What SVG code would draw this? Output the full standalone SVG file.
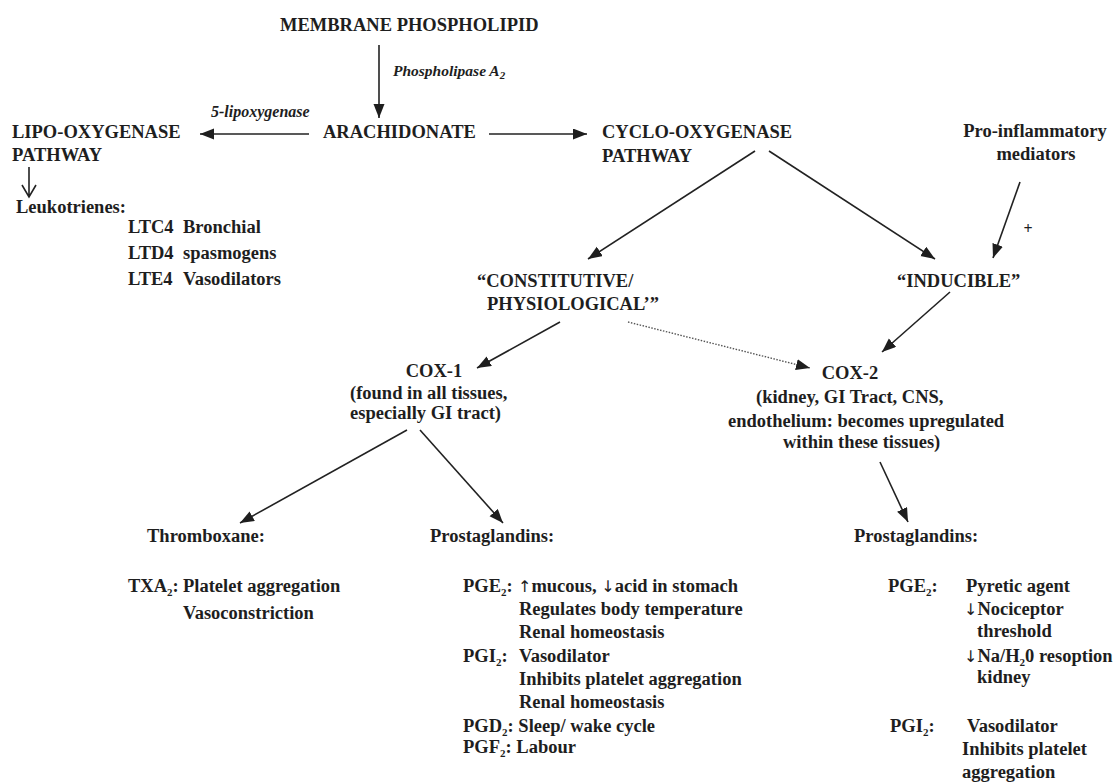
<svg xmlns="http://www.w3.org/2000/svg" width="1115" height="783" viewBox="0 0 1115 783">
<style>
text{font-family:"Liberation Serif","Times New Roman",serif;font-weight:bold;font-size:18.5px;fill:#1e1e1e}
.it{font-style:italic;font-size:15.5px}
.sub{font-size:11px}
.ar{font-family:"DejaVu Sans",sans-serif;font-weight:normal;font-size:16px}
.c line,.c path{stroke:#222;stroke-width:1.6;fill:none}
.c .dot{stroke:#555;stroke-width:1.4;stroke-dasharray:1.5 1.5}
</style>
<defs>
<marker id="ah" markerUnits="userSpaceOnUse" markerWidth="15" markerHeight="12" refX="14" refY="5.5" orient="auto">
<path d="M0,0 L14,5.5 L0,11 z" fill="#1e1e1e"/>
</marker>
</defs>
<rect width="1115" height="783" fill="#fff"/>
<g class="c" id="connectors">
<line x1="379" y1="45" x2="379" y2="118" marker-end="url(#ah)"/>
<line x1="309" y1="134" x2="200" y2="134" marker-end="url(#ah)"/>
<line x1="489" y1="134" x2="587" y2="134" marker-end="url(#ah)"/>
<path d="M29,167 V197 M22,185 L29,197 L36,185"/>
<line x1="755" y1="151" x2="588" y2="259" marker-end="url(#ah)"/>
<line x1="769" y1="151" x2="935" y2="259" marker-end="url(#ah)"/>
<line x1="1020" y1="182" x2="993" y2="258" marker-end="url(#ah)"/>
<line x1="560" y1="322" x2="477" y2="368" marker-end="url(#ah)"/>
<line class="dot" x1="628" y1="322" x2="810" y2="368" marker-end="url(#ah)"/>
<line x1="950" y1="292" x2="882" y2="352" marker-end="url(#ah)"/>
<line x1="407" y1="430" x2="240" y2="523" marker-end="url(#ah)"/>
<line x1="420" y1="430" x2="503" y2="523" marker-end="url(#ah)"/>
<line x1="880" y1="462" x2="908" y2="522" marker-end="url(#ah)"/>
</g>
<g id="membrane"><text x="280" y="31">MEMBRANE PHOSPHOLIPID</text></g>
<g id="pla2"><text class="it" x="393" y="76">Phospholipase A<tspan class="sub" dy="3">2</tspan></text></g>
<g id="lipox5"><text class="it" x="211" y="117" style="font-size:16px">5-lipoxygenase</text></g>
<g id="lipo"><text x="12" y="138">LIPO-OXYGENASE</text><text x="12" y="161">PATHWAY</text></g>
<g id="arachidonate"><text x="323" y="138">ARACHIDONATE</text></g>
<g id="cyclo"><text x="602" y="138">CYCLO-OXYGENASE</text><text x="602" y="162">PATHWAY</text></g>
<g id="proinflam"><text x="1035" y="137" text-anchor="middle">Pro-inflammatory</text><text x="1036" y="160" text-anchor="middle">mediators</text><text x="1028" y="234" text-anchor="middle" style="font-size:16px">+</text></g>
<g id="leuko">
<text x="16" y="213">Leukotrienes:</text>
<text x="128" y="233">LTC4</text><text x="183" y="233">Bronchial</text>
<text x="128" y="259">LTD4</text><text x="183" y="259">spasmogens</text>
<text x="128" y="285">LTE4</text><text x="183" y="285">Vasodilators</text>
</g>
<g id="constitutive"><text x="477" y="287">“CONSTITUTIVE/</text><text x="487" y="310">PHYSIOLOGICAL’”</text></g>
<g id="inducible"><text x="897" y="287">“INDUCIBLE”</text></g>
<g id="cox1">
<text x="434" y="377" text-anchor="middle">COX-1</text>
<text x="350" y="399">(found in all tissues,</text>
<text x="350" y="419">especially GI tract)</text>
</g>
<g id="cox2">
<text x="850" y="379" text-anchor="middle">COX-2</text>
<text x="756" y="403">(kidney, GI Tract, CNS,</text>
<text x="728" y="427">endothelium: becomes upregulated</text>
<text x="783" y="448">within these tissues)</text>
</g>
<g id="thromboxane">
<text x="147" y="542">Thromboxane:</text>
<text x="128" y="592">TXA<tspan class="sub" dy="4">2</tspan><tspan dy="-4">:</tspan></text>
<text x="183" y="592">Platelet aggregation</text>
<text x="183" y="619">Vasoconstriction</text>
</g>
<g id="pg1">
<text x="430" y="542">Prostaglandins:</text>
<text x="463" y="592">PGE<tspan class="sub" dy="4">2</tspan><tspan dy="-4">:</tspan></text>
<text x="518" y="592"><tspan class="ar">↑</tspan>mucous, <tspan class="ar">↓</tspan>acid in stomach</text>
<text x="519" y="615">Regulates body temperature</text>
<text x="519" y="638">Renal homeostasis</text>
<text x="463" y="662">PGI<tspan class="sub" dy="4">2</tspan><tspan dy="-4">:</tspan></text>
<text x="519" y="662">Vasodilator</text>
<text x="519" y="685">Inhibits platelet aggregation</text>
<text x="519" y="708">Renal homeostasis</text>
<text x="463" y="732">PGD<tspan class="sub" dy="4">2</tspan><tspan dy="-4">: Sleep/ wake cycle</tspan></text>
<text x="463" y="753">PGF<tspan class="sub" dy="4">2</tspan><tspan dy="-4">: Labour</tspan></text>
</g>
<g id="pg2">
<text x="854" y="542">Prostaglandins:</text>
<text x="888" y="592">PGE<tspan class="sub" dy="4">2</tspan><tspan dy="-4">:</tspan></text>
<text x="966" y="592">Pyretic agent</text>
<text x="964" y="615"><tspan class="ar">↓</tspan>Nociceptor</text>
<text x="977" y="637">threshold</text>
<text x="964" y="662"><tspan class="ar">↓</tspan>Na/H<tspan class="sub" dy="4">2</tspan><tspan dy="-4">0 resoption</tspan></text>
<text x="977" y="683">kidney</text>
<text x="890" y="732">PGI<tspan class="sub" dy="4">2</tspan><tspan dy="-4">:</tspan></text>
<text x="967" y="732">Vasodilator</text>
<text x="962" y="755">Inhibits platelet</text>
<text x="962" y="778">aggregation</text>
</g>
</svg>
